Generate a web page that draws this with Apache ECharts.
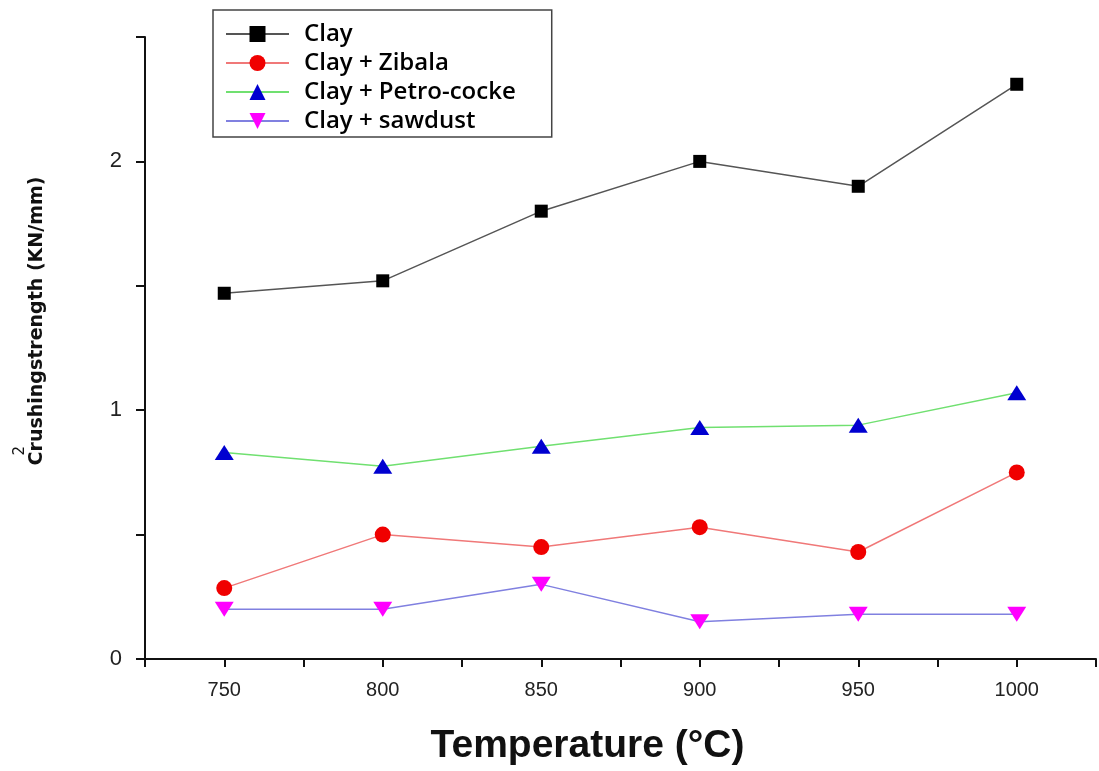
<!DOCTYPE html>
<html>
<head>
<meta charset="utf-8">
<script src="https://cdn.jsdelivr.net/npm/echarts@6/dist/echarts.min.js"></script>
<style>html,body{margin:0;padding:0;background:#fff}#c{width:1099px;height:771px}</style>
</head>
<body>
<div id="c"></div>
<script>
const temperatures = [750, 800, 850, 900, 950, 1000];
const clay = [1.47, 1.52, 1.80, 2.00, 1.90, 2.31];
const clayZibala = [0.285, 0.50, 0.45, 0.53, 0.43, 0.75];
const clayPetro = [0.83, 0.775, 0.855, 0.93, 0.94, 1.07];
const claySawdust = [0.20, 0.20, 0.30, 0.15, 0.18, 0.18];
const seriesNames = ['Clay', 'Clay + Zibala', 'Clay + Petro-cocke', 'Clay + sawdust'];
const xTickLabels = [750, 800, 850, 900, 950, 1000];
const yTickLabels = [0, 1, 2];

const pairs = arr => temperatures.map((t, i) => [t, arr[i]]);

const chart = echarts.init(document.getElementById('c'));
chart.setOption({
  backgroundColor: '#fff',
  animation: false,
  grid: { left: 145, right: 1, top: 37, bottom: 110, containLabel: false },
  legend: {
    orient: 'vertical',
    left: 213, top: 10,
    padding: [12, 36, 4, 12],
    itemGap: 5,
    itemWidth: 63,
    itemHeight: 20,
    borderColor: '#444',
    borderWidth: 1.5,
    backgroundColor: '#fff',
    textStyle: { fontFamily: 'Open Sans', fontSize: 24, fontWeight: 600, color: '#000', padding: [0, 0, 0, 10] },
    data: seriesNames
  },
  xAxis: {
    type: 'value',
    min: 725, max: 1025, interval: 25,
    name: 'Temperature (°C)',
    nameLocation: 'middle',
    nameGap: 68,
    nameTextStyle: { fontFamily: 'Liberation Sans', fontSize: 39, fontWeight: 'bold', color: '#111', padding: [0, 66, 0, 0] },
    axisLine: { lineStyle: { color: '#111', width: 2 } },
    axisTick: { show: true, inside: false, length: 8, lineStyle: { color: '#111', width: 2 } },
    axisLabel: {
      margin: 21,
      fontFamily: 'Liberation Sans', fontSize: 20, color: '#222',
      formatter: v => (xTickLabels.indexOf(v) >= 0 ? String(v) : '')
    },
    splitLine: { show: false }
  },
  yAxis: {
    type: 'value',
    min: 0, max: 2.5, interval: 0.5,
    name: 'Crushingstrength (KN/mm)',
    nameLocation: 'middle',
    nameRotate: 90,
    nameGap: 98,
    nameTextStyle: { fontFamily: 'DejaVu Sans', fontSize: 19, fontWeight: 'bold', color: '#111', padding: [0, 0, 0, 54] },
    axisLine: { show: true, lineStyle: { color: '#111', width: 2 } },
    axisTick: { show: true, inside: false, length: 9, lineStyle: { color: '#111', width: 2 } },
    axisLabel: {
      margin: 23,
      fontFamily: 'Liberation Sans', fontSize: 22, color: '#222',
      formatter: v => (yTickLabels.indexOf(v) >= 0 ? String(v) : '')
    },
    splitLine: { show: false }
  },
  graphic: [{
    type: 'text', left: 13, top: 446, rotation: Math.PI / 2,
    style: { text: '2', fontFamily: 'DejaVu Sans', fontSize: 15, fill: '#111' }
  }],
  series: [
    {
      name: seriesNames[0], type: 'line', data: pairs(clay),
      symbol: 'rect', symbolSize: 13,
      lineStyle: { color: '#555', width: 1.5 },
      itemStyle: { color: '#000' }
    },
    {
      name: seriesNames[1], type: 'line', data: pairs(clayZibala),
      symbol: 'circle', symbolSize: 16,
      lineStyle: { color: '#f07878', width: 1.5 },
      itemStyle: { color: '#f00000' }
    },
    {
      name: seriesNames[2], type: 'line', data: pairs(clayPetro),
      symbol: 'triangle', symbolSize: [19, 15],
      lineStyle: { color: '#70e070', width: 1.5 },
      itemStyle: { color: '#0000d0' }
    },
    {
      name: seriesNames[3], type: 'line', data: pairs(claySawdust),
      symbol: 'triangle', symbolRotate: 180, symbolSize: [19, 15],
      lineStyle: { color: '#8080e0', width: 1.5 },
      itemStyle: { color: '#ff00ff' }
    }
  ]
});
</script>
</body>
</html>
